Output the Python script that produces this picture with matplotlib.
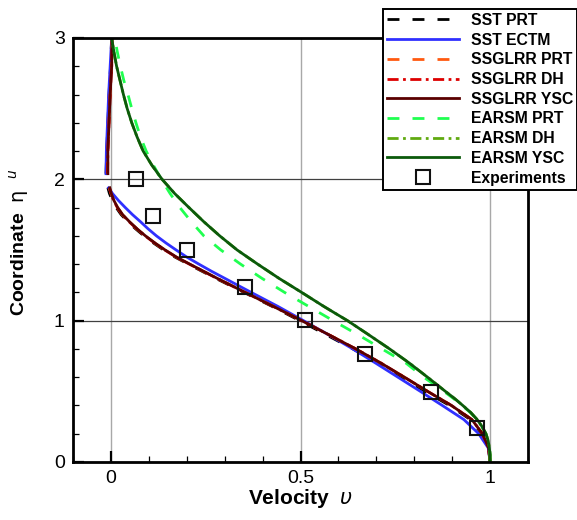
import numpy as np
import matplotlib
matplotlib.use("Agg")
import matplotlib.pyplot as plt
from matplotlib.ticker import MultipleLocator

plt.rcParams['font.family'] = ['Liberation Sans', 'DejaVu Sans']
plt.rcParams['mathtext.fontset'] = 'dejavusans'

# Wall-normal coordinate for the SST / SSG-LRR profiles (lower and upper branch)
eta_lo = [0.0, 0.1, 0.2, 0.3, 0.4, 0.5, 0.6, 0.7, 0.8, 0.9, 1.0, 1.1, 1.2,
          1.3, 1.35, 1.4, 1.45, 1.5, 1.55, 1.6, 1.65, 1.7, 1.75, 1.8, 1.85,
          1.9, 1.94]
eta_hi = [2.04, 2.2, 2.4, 2.6, 2.8, 3.0]

# Wall-normal coordinate for the EARSM profiles
eta_full = [0.0, 0.05, 0.1, 0.15, 0.2, 0.25, 0.3, 0.35, 0.4, 0.45, 0.5, 0.6,
            0.7, 0.8, 0.9, 1.0, 1.1, 1.2, 1.3, 1.4, 1.5, 1.6, 1.7, 1.8, 1.9,
            2.0, 2.1, 2.2, 2.3, 2.4, 2.5, 2.6, 2.7, 2.8, 2.9, 3.0]

# Velocity profiles
sst_prt_lo = [1.0, 0.996, 0.978, 0.948, 0.893, 0.828, 0.766, 0.704, 0.638,
              0.568, 0.498, 0.426, 0.351, 0.276, 0.240, 0.204, 0.169, 0.139,
              0.112, 0.087, 0.065, 0.045, 0.027, 0.014, 0.004, -0.004, -0.008]
sst_prt_hi = [-0.013, -0.011, -0.008, -0.005, -0.001, 0.002]

sst_ectm_lo = [1.0, 0.995, 0.970, 0.931, 0.874, 0.816, 0.757, 0.698, 0.638,
               0.574, 0.508, 0.441, 0.370, 0.300, 0.265, 0.232, 0.200, 0.172,
               0.145, 0.120, 0.098, 0.078, 0.057, 0.038, 0.020, 0.004, -0.006]
sst_ectm_hi = [-0.013, -0.012, -0.009, -0.006, -0.002, 0.002]

ssglrr_prt_lo = [1.0, 0.996, 0.980, 0.952, 0.898, 0.835, 0.774, 0.712, 0.646,
                 0.575, 0.503, 0.429, 0.354, 0.279, 0.243, 0.207, 0.172, 0.142,
                 0.115, 0.090, 0.068, 0.048, 0.030, 0.017, 0.007, 0.0, -0.004]
ssglrr_prt_hi = [-0.009, -0.008, -0.005, -0.002, 0.002, 0.003]

ssglrr_dh_lo = [1.0, 0.996, 0.980, 0.952, 0.898, 0.835, 0.774, 0.712, 0.646,
                0.575, 0.503, 0.429, 0.354, 0.279, 0.243, 0.207, 0.172, 0.142,
                0.115, 0.090, 0.068, 0.048, 0.030, 0.017, 0.007, 0.0, -0.004]
ssglrr_dh_hi = [-0.009, -0.008, -0.005, -0.002, 0.002, 0.003]

ssglrr_ysc_lo = [1.0, 0.996, 0.980, 0.952, 0.898, 0.835, 0.774, 0.712, 0.646,
                 0.575, 0.503, 0.429, 0.354, 0.280, 0.244, 0.208, 0.173, 0.143,
                 0.116, 0.091, 0.069, 0.049, 0.031, 0.018, 0.008, 0.001, -0.003]
ssglrr_ysc_hi = [-0.008, -0.008, -0.005, -0.002, 0.002, 0.003]

earsm_prt = [1.0, 1.0, 0.998, 0.995, 0.989, 0.978, 0.965, 0.948, 0.926,
             0.903, 0.878, 0.825, 0.778, 0.715, 0.652, 0.586, 0.522, 0.458,
             0.398, 0.342, 0.290, 0.245, 0.212, 0.182, 0.156, 0.133, 0.112,
             0.093, 0.078, 0.066, 0.055, 0.045, 0.034, 0.025, 0.017, 0.010]
earsm_dh = [1.0, 1.0, 0.998, 0.995, 0.989, 0.979, 0.966, 0.949, 0.928,
            0.906, 0.882, 0.835, 0.787, 0.735, 0.680, 0.624, 0.562, 0.503,
            0.443, 0.387, 0.333, 0.287, 0.245, 0.206, 0.168, 0.135, 0.108,
            0.085, 0.069, 0.055, 0.043, 0.033, 0.024, 0.015, 0.008, 0.002]
earsm_ysc = [1.0, 1.0, 0.998, 0.995, 0.989, 0.979, 0.966, 0.949, 0.928,
             0.906, 0.882, 0.835, 0.787, 0.735, 0.680, 0.624, 0.562, 0.503,
             0.443, 0.387, 0.333, 0.287, 0.245, 0.206, 0.168, 0.135, 0.108,
             0.085, 0.069, 0.055, 0.043, 0.033, 0.024, 0.015, 0.008, 0.002]

exp_u = [0.066, 0.111, 0.201, 0.354, 0.511, 0.669, 0.844, 0.966]
exp_eta = [2.00, 1.74, 1.50, 1.24, 1.005, 0.764, 0.495, 0.24]


def branch(lo, hi):
    """Join lower and upper branches with a break between them."""
    x = list(lo) + [np.nan] + list(hi)
    y = list(eta_lo) + [np.nan] + list(eta_hi)
    return x, y


fig = plt.figure(figsize=(5.77, 5.2), dpi=100)
ax = fig.add_axes([73 / 577, 1 - 462 / 520, 455 / 577, 424 / 520])

lw = 2.0
dash = (0, (4.3, 4.7))
dashdotdot = (0, (4.0, 1.6, 1.0, 1.6))

ax.plot(*branch(sst_prt_lo, sst_prt_hi), color='black', lw=lw,
        linestyle=dash, label='SST PRT')
ax.plot(*branch(sst_ectm_lo, sst_ectm_hi), color='#3030ff', lw=lw,
        label='SST ECTM')
ax.plot(*branch(ssglrr_prt_lo, ssglrr_prt_hi), color='#ff5a10', lw=lw,
        linestyle=dash, label='SSGLRR PRT')
ax.plot(*branch(ssglrr_dh_lo, ssglrr_dh_hi), color='#dd0000', lw=lw,
        linestyle=dashdotdot, label='SSGLRR DH')
ax.plot(*branch(ssglrr_ysc_lo, ssglrr_ysc_hi), color='#5a0000', lw=lw,
        label='SSGLRR YSC')
ax.plot(earsm_prt, eta_full, color='#20ff50', lw=lw, linestyle=dash,
        label='EARSM PRT')
ax.plot(earsm_dh, eta_full, color='#60aa10', lw=lw, linestyle=dashdotdot,
        label='EARSM DH')
ax.plot(earsm_ysc, eta_full, color='#0b5a0b', lw=lw, label='EARSM YSC')
ax.plot(exp_u, exp_eta, linestyle='none', marker='s', markersize=9.5,
        markerfacecolor='none', markeredgecolor='#111111', markeredgewidth=1.5,
        label='Experiments')

ax.set_xlim(-0.1, 1.1)
ax.set_ylim(0, 3)
ax.xaxis.set_minor_locator(MultipleLocator(0.1))
ax.yaxis.set_minor_locator(MultipleLocator(0.2))
ax.set_xticks([0, 0.5, 1])
ax.set_xticklabels(['0', '0.5', '1'])
ax.set_yticks([0, 1, 2, 3])
ax.set_yticklabels(['0', '1', '2', '3'])

ax.xaxis.grid(True, which='major', color='#a8a8a8', lw=1.0)
ax.yaxis.grid(True, which='major', color='#404040', lw=0.9)
ax.set_axisbelow(True)

ax.tick_params(which='both', direction='in', top=False, right=False,
               labelsize=14, pad=6)
ax.tick_params(which='major', length=8, width=1.6)
ax.tick_params(which='minor', length=4, width=0.9)
for s in ax.spines.values():
    s.set_linewidth(2.0)

ax.set_xlabel(r'Velocity  $\upsilon$', fontsize=15, fontweight='bold',
              va='center')
ax.xaxis.set_label_coords((300 - 73) / 455, (462 - 499) / 424)
ax.set_ylabel(r'Coordinate  $\mathrm{\eta}$  $^{u}$', fontsize=14,
              fontweight='bold', va='center')
ax.yaxis.set_label_coords((19 - 73) / 455, (462 - 242) / 424)

leg = fig.legend(loc='upper left', bbox_to_anchor=(383 / 577, 1 - 9 / 520),
                 frameon=True, fancybox=False, framealpha=1,
                 edgecolor='black', prop={'weight': 'bold', 'size': 11.3},
                 handlelength=4.6, handletextpad=0.75, labelspacing=0.3,
                 borderpad=0.25, borderaxespad=0)
leg.get_frame().set_linewidth(1.4)

fig.savefig('out.png', dpi=100)
